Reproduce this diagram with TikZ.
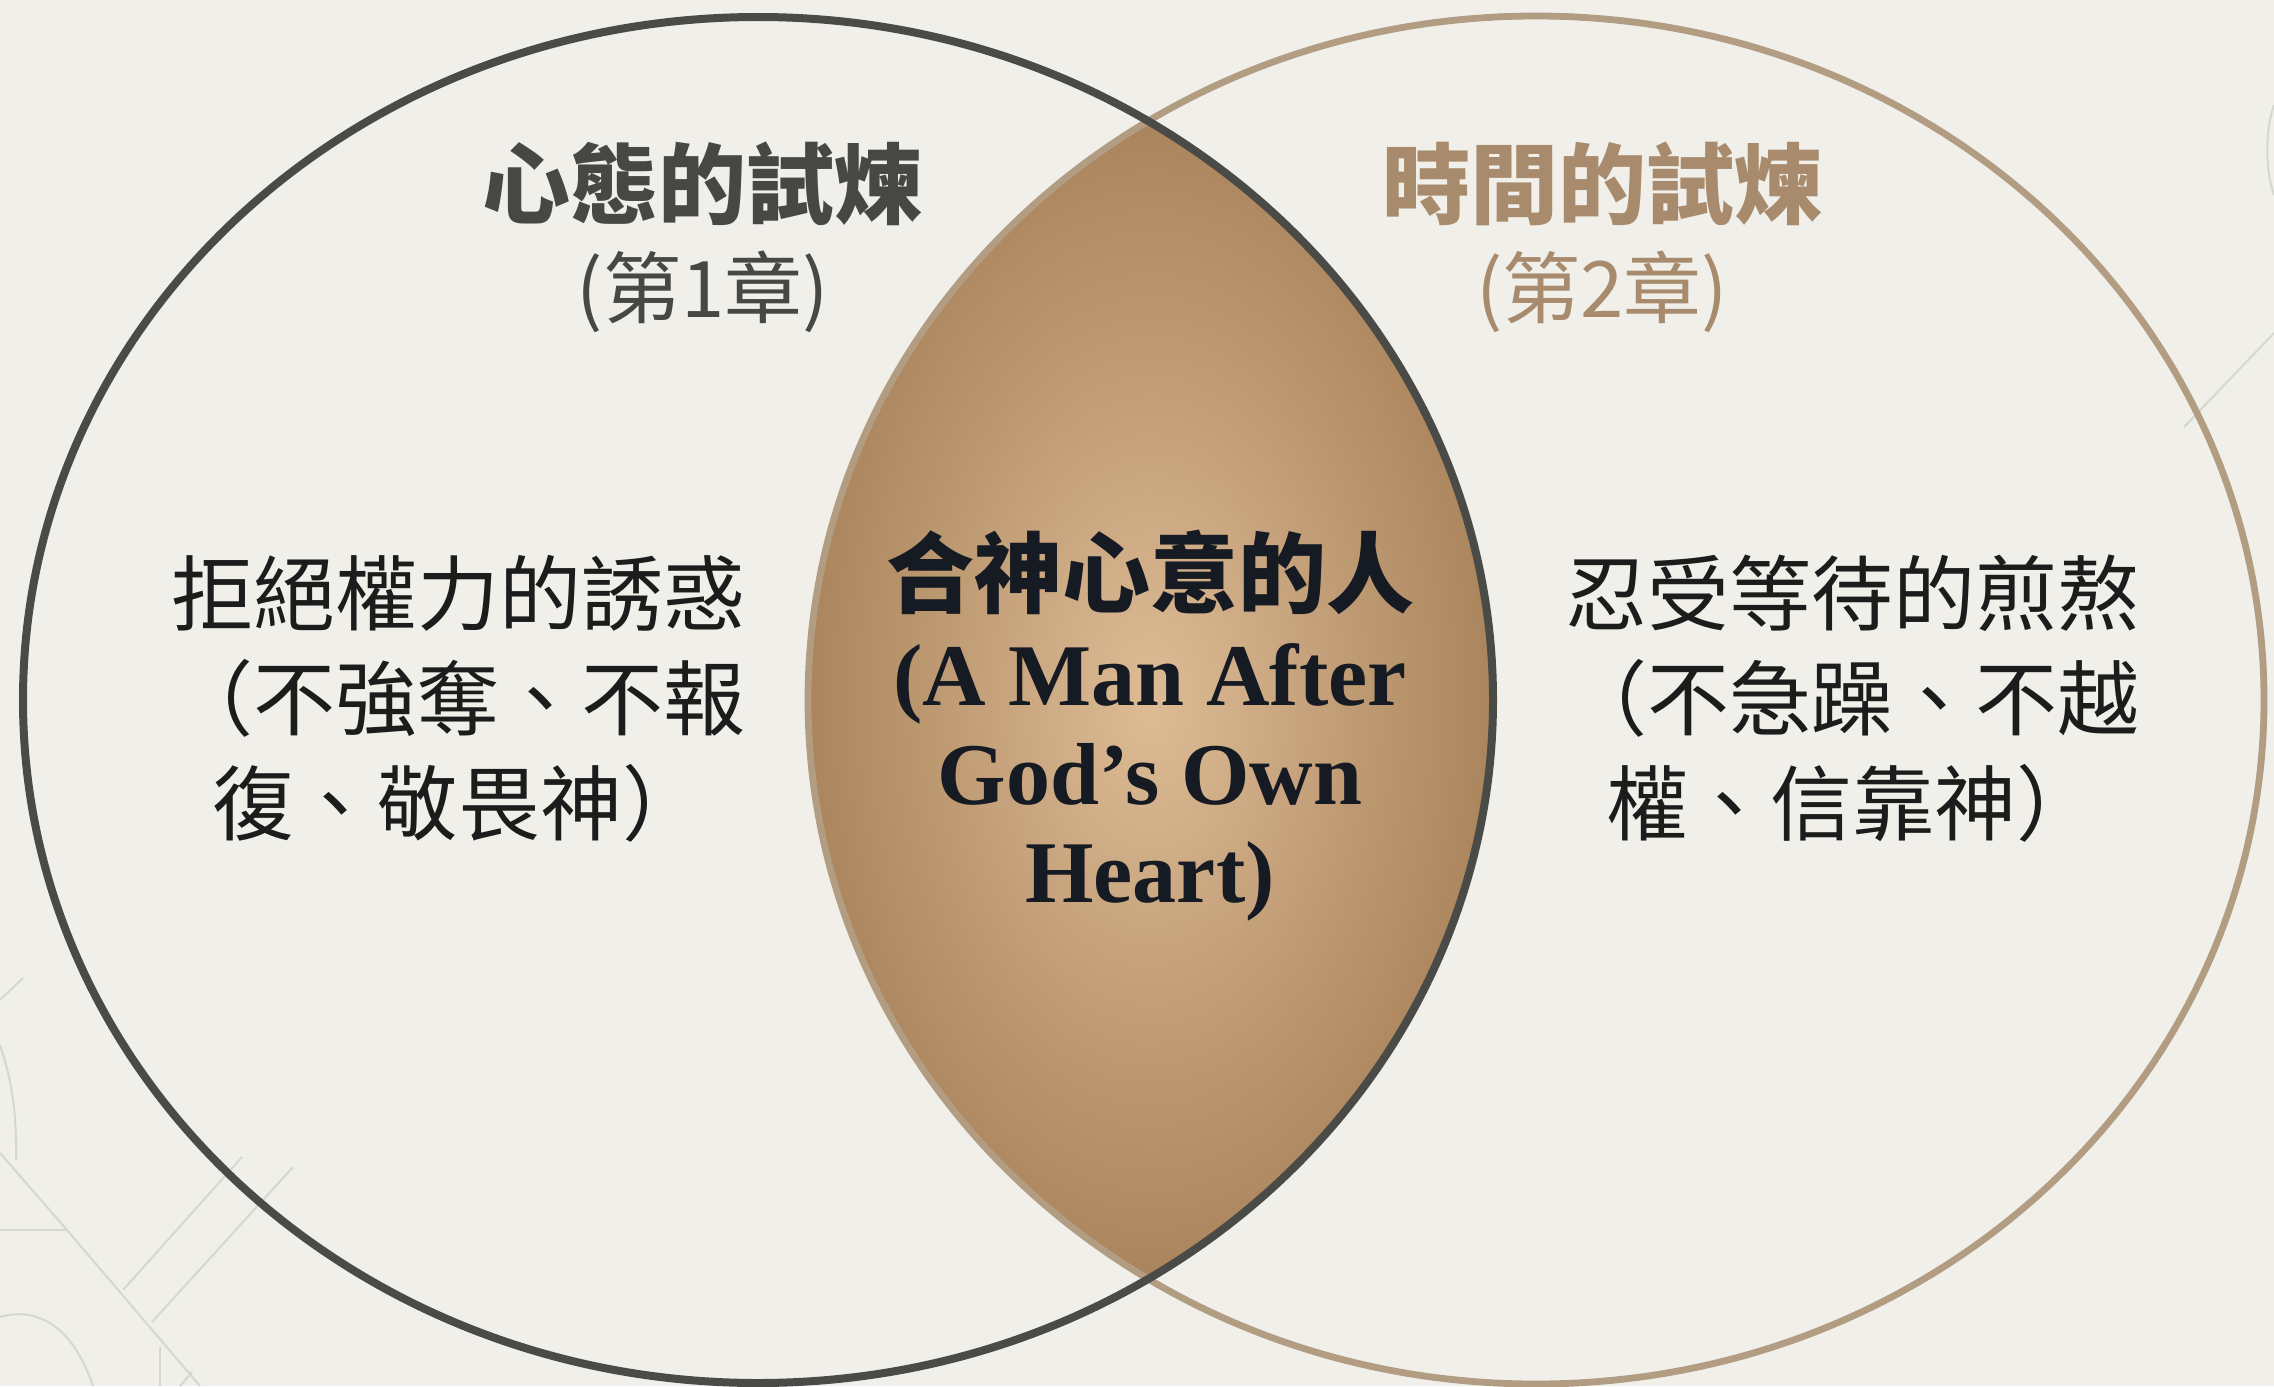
\documentclass[tikz,border=0pt]{standalone}
\usepackage{fontspec}
\newfontfamily\cjk{Noto Sans CJK TC}
\newfontfamily\serifen{Liberation Serif}
\definecolor{bg}{HTML}{F0EFEA}
\definecolor{darkring}{HTML}{4A4A47}
\definecolor{tanring}{HTML}{B29C82}
\definecolor{bronzeDark}{HTML}{A8825B}
\definecolor{bronzeLight}{HTML}{DDBC95}
\definecolor{titleDark}{HTML}{474745}
\definecolor{titleTan}{HTML}{A88B6C}
\definecolor{inktext}{HTML}{1C1C1C}
\definecolor{inknavy}{HTML}{161A22}
\definecolor{decoline}{HTML}{D7D7D2}
\tikzset{
  deco/.style={draw=decoline, line width=1pt},
  ringL/.style={draw=darkring, line width=4pt},
  ringR/.style={draw=tanring, line width=3.4pt},
  titlebox/.style={inner sep=0pt, font=\cjk\bfseries\fontsize{44pt}{50pt}\selectfont},
  subbox/.style={inner sep=0pt, font=\cjk\fontsize{39pt}{44pt}\selectfont},
  bodybox/.style={inner sep=0pt, align=center, text=inktext, font=\cjk\fontsize{41pt}{52.5pt}\selectfont},
  centerzh/.style={inner sep=0pt, text=inknavy, font=\cjk\bfseries\fontsize{44pt}{50pt}\selectfont},
  centeren/.style={inner sep=0pt, anchor=base, text=inknavy, font=\serifen\bfseries\fontsize{44pt}{50pt}\selectfont}
}
\begin{document}
\begin{tikzpicture}[x=0.5pt,y=-0.5pt]
\useasboundingbox (0,0) rectangle (2274,1386);
\fill[bg] (0,0) rectangle (2274,1386);
% faint background decorations
\draw[deco] (0,1000) -- (23,978);
\draw[deco] (0,1045) .. controls (12,1080) and (17,1115) .. (16,1160);
\draw[deco] (0,1153) -- (67,1230) -- (200,1386);
\draw[deco] (0,1230) -- (67,1230);
\draw[deco] (123,1290) -- (242,1157);
\draw[deco] (152,1322) -- (293,1167);
\draw[deco] (0,1317) .. controls (30,1308) and (70,1318) .. (93,1386);
\draw[deco] (160,1347) -- (160,1386);
\draw[deco] (180,1386) -- (192,1372);
\draw[deco] (2184,427) -- (2274,333);
\draw[deco] (2274,105) .. controls (2265,130) and (2265,170) .. (2274,195);
% lens
\begin{scope}
  \clip (758,700) ellipse [x radius=735, y radius=683];
  \clip (1536,700) ellipse [x radius=728, y radius=684];
  \shade[inner color=bronzeLight, outer color=bronzeDark] (790,100) rectangle (1510,1300);
\end{scope}
% rings
\draw[ringR] (1536,700) ellipse [x radius=728, y radius=684];
\draw[ringL] (758,700) ellipse [x radius=735, y radius=683];
% titles
\node[titlebox, text=titleDark] (tL) at (702,184) {心態的試煉};
\node[subbox, text=titleDark] (sL) at (703,292) {(第1章)};
\node[titlebox, text=titleTan] (tR) at (1602,184) {時間的試煉};
\node[subbox, text=titleTan] (sR) at (1602,292) {(第2章)};
% body
\node[bodybox] (bL) at (458,699) {拒絕權力的誘惑\\（不強奪、不報\\復、敬畏神）};
\node[bodybox] (bR) at (1852,699) {忍受等待的煎熬\\（不急躁、不越\\權、信靠神）};
% center
\node[centerzh] (cz) at (1150,572) {合神心意的人};
\node[centeren] (ce1) at (1150,705) {(A Man After};
\node[centeren] (ce2) at (1150,804) {God’s Own};
\node[centeren] (ce3) at (1150,902) {Heart)};
\end{tikzpicture}
\end{document}
